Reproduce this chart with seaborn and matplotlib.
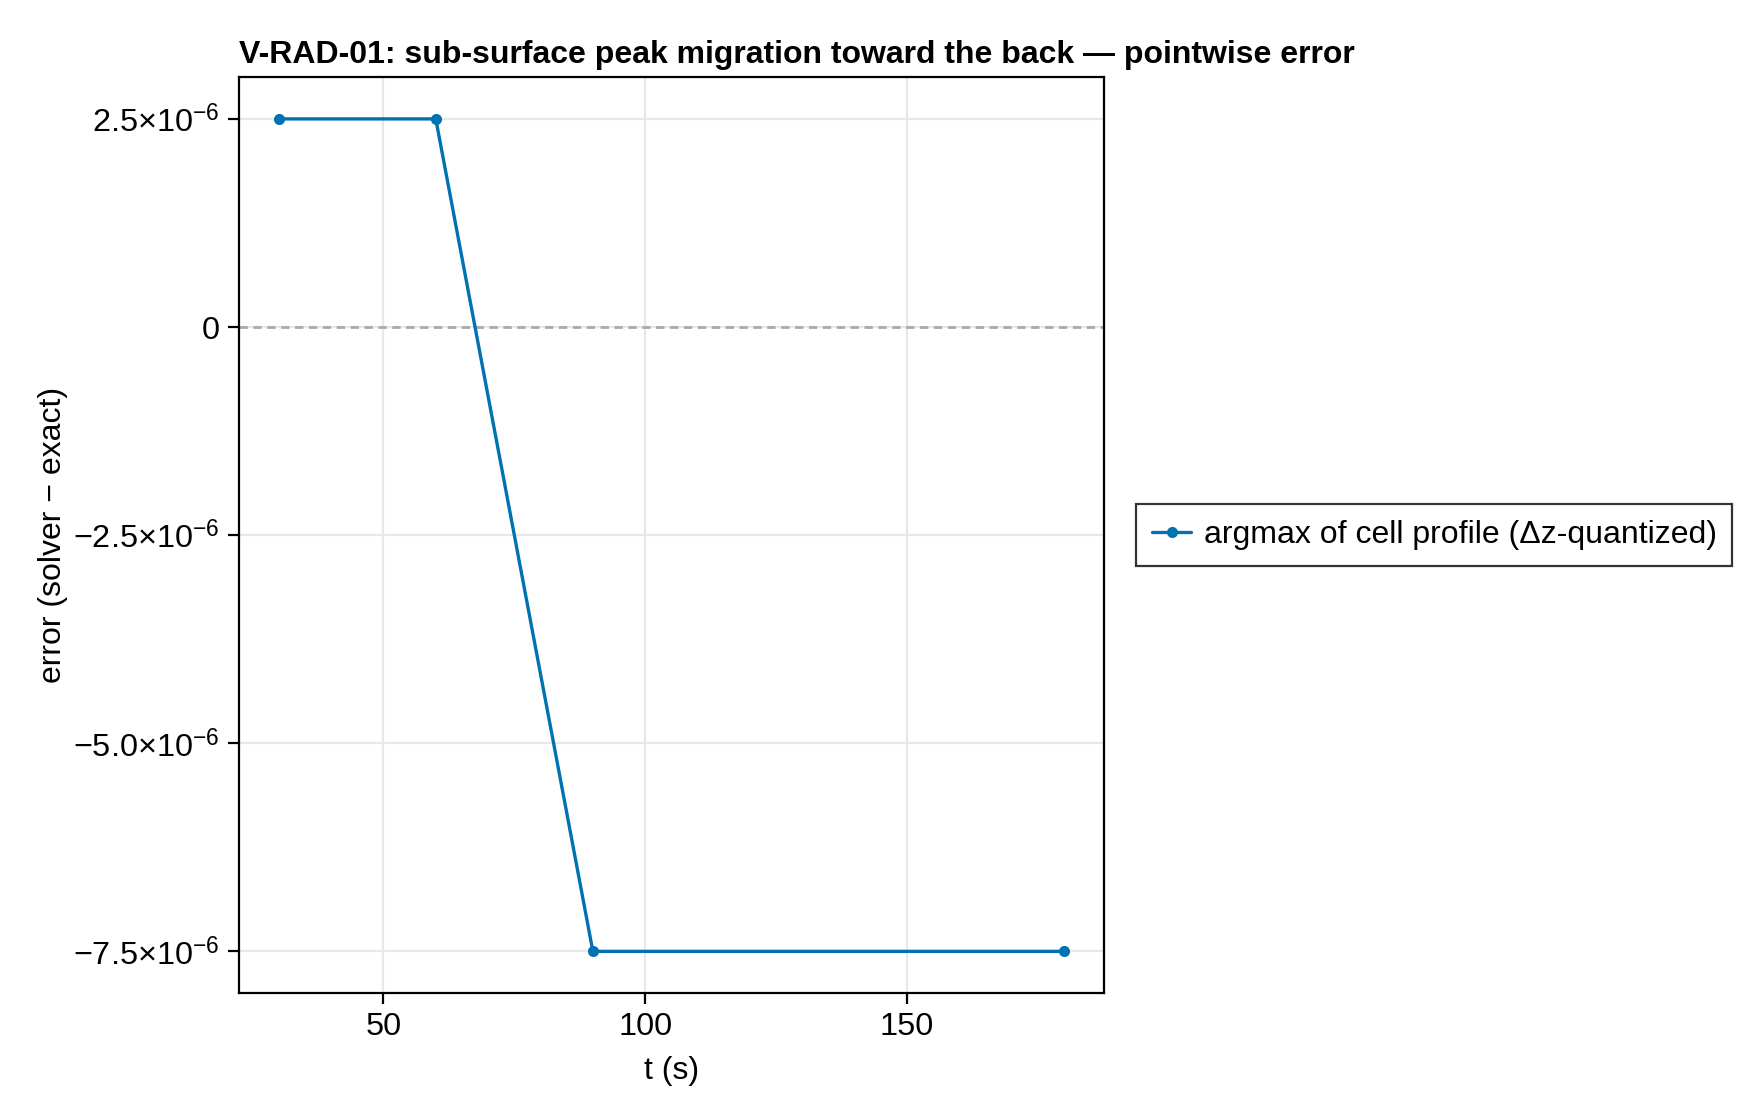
import numpy as np
import pandas as pd
import seaborn as sns
import matplotlib
matplotlib.use("Agg")
import matplotlib.pyplot as plt
from matplotlib.ticker import FixedLocator, FixedFormatter

t_s = [30, 60, 90, 180]
error = [2.5e-6, 2.5e-6, -7.5e-6, -7.5e-6]
series_label = "argmax of cell profile (Δz-quantized)"
ytick_vals = [2.5e-6, 0.0, -2.5e-6, -5.0e-6, -7.5e-6]
ytick_labels = ["2.5×10$^{−6}$", "0", "−2.5×10$^{−6}$", "−5.0×10$^{−6}$", "−7.5×10$^{−6}$"]
xtick_vals = [50, 100, 150]

sns.set_theme(style="white")
plt.rcParams['font.family'] = ['Liberation Sans', 'DejaVu Sans']
plt.rcParams['mathtext.fontset'] = 'custom'
plt.rcParams['mathtext.rm'] = 'Liberation Sans'
plt.rcParams['mathtext.it'] = 'Liberation Sans'
plt.rcParams['mathtext.default'] = 'regular'
plt.rcParams['text.color'] = 'black'
plt.rcParams['axes.labelcolor'] = 'black'
plt.rcParams['xtick.color'] = 'black'
plt.rcParams['ytick.color'] = 'black'

df = pd.DataFrame({"t": t_s, "err": error, "s": series_label})

fig = plt.figure(figsize=(8.8, 5.6), dpi=200)
ax = fig.add_axes([0.136, 0.1134, 0.627 - 0.136, 0.931 - 0.1134])

ax.grid(True, color="#e8e8e8", linewidth=0.8)
ax.set_axisbelow(True)
ax.axhline(0, color="#aaaaaa", linestyle=(0, (3, 2)), linewidth=1.0, zorder=1)

sns.lineplot(data=df, x="t", y="err", hue="s", palette=["#0072B2"], marker="o",
             markersize=4, markeredgewidth=0, linewidth=1.2, ax=ax, legend=True)

ax.set_xlim(22.5, 187.5)
ax.set_ylim(-8.0e-6, 3.0e-6)
ax.xaxis.set_major_locator(FixedLocator(xtick_vals))
ax.yaxis.set_major_locator(FixedLocator(ytick_vals))
ax.yaxis.set_major_formatter(FixedFormatter(ytick_labels))

for sp in ax.spines.values():
    sp.set_color("black")
    sp.set_linewidth(0.8)
ax.tick_params(axis="both", which="major", labelsize=11.7, length=4, width=0.8,
               color="black", direction="out", bottom=True, left=True, pad=3)

ax.set_xlabel("t (s)", fontsize=11.5, labelpad=5)
ax.set_ylabel("error (solver − exact)", fontsize=11.5, labelpad=2)
ax.set_title("V-RAD-01: sub-surface peak migration toward the back — pointwise error",
             loc="left", fontsize=11.5, fontweight="bold", pad=5)

leg = ax.legend(loc="center left", bbox_to_anchor=(1.027, 0.5), fontsize=11.5,
                frameon=True, fancybox=False, edgecolor="black", borderpad=0.5,
                handlelength=1.2, handletextpad=0.4, borderaxespad=0.3)
leg.get_frame().set_linewidth(0.8)

fig.savefig("out.png", dpi=200, facecolor="white")
